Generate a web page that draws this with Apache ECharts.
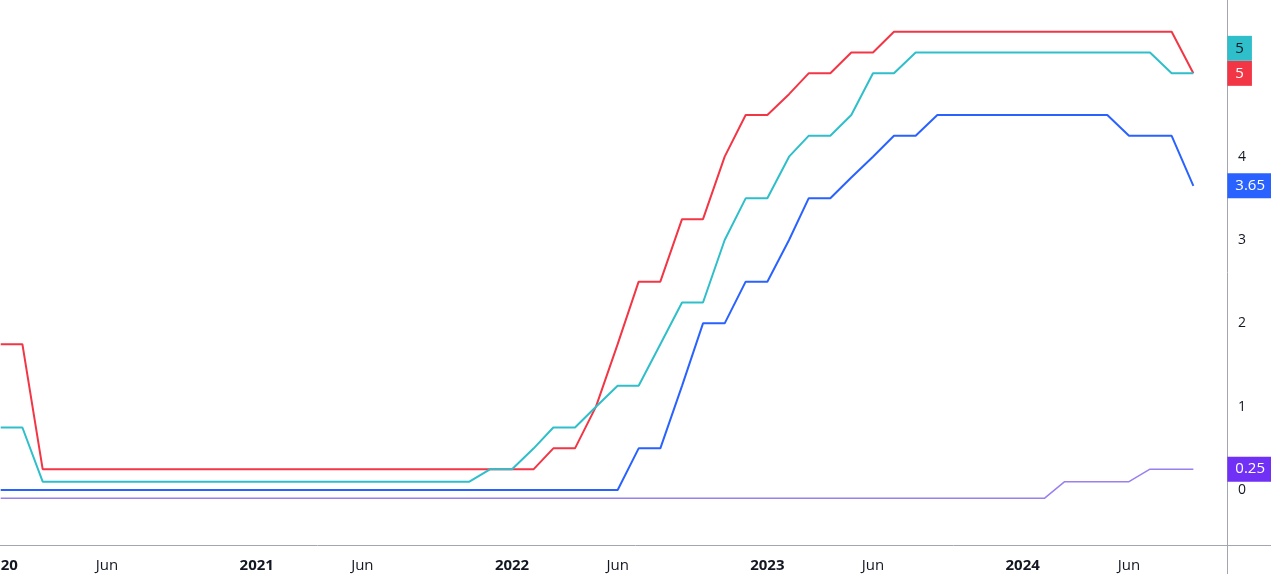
<!DOCTYPE html>
<html>
<head>
<meta charset="utf-8">
<script src="https://cdn.jsdelivr.net/npm/echarts@6/dist/echarts.min.js"></script>
<style>
    html, body { margin: 0; padding: 0; background: #fff; }
    #chart { width: 1271px; height: 574px; }
</style>
</head>
<body>
<div id="chart"></div>
<script>
// monthly points, Jan 2020 .. Sep 2024
const startYear = 2020
const monthCount = 57
const months = []
for (let i = 0; i < monthCount; i++) {
    months.push(new Date(startYear + Math.floor(i / 12), i % 12, 1).getTime())
}

// red
const fedRate = [
    1.75, 1.75, 0.25, 0.25, 0.25, 0.25, 0.25, 0.25, 0.25, 0.25, 0.25, 0.25,
    0.25, 0.25, 0.25, 0.25, 0.25, 0.25, 0.25, 0.25, 0.25, 0.25, 0.25, 0.25,
    0.25, 0.25, 0.5, 0.5, 1.0, 1.75, 2.5, 2.5, 3.25, 3.25, 4.0, 4.5,
    4.5, 4.75, 5.0, 5.0, 5.25, 5.25, 5.5, 5.5, 5.5, 5.5, 5.5, 5.5,
    5.5, 5.5, 5.5, 5.5, 5.5, 5.5, 5.5, 5.5, 5.0,
]
// cyan
const boeRate = [
    0.75, 0.75, 0.1, 0.1, 0.1, 0.1, 0.1, 0.1, 0.1, 0.1, 0.1, 0.1,
    0.1, 0.1, 0.1, 0.1, 0.1, 0.1, 0.1, 0.1, 0.1, 0.1, 0.1, 0.25,
    0.25, 0.5, 0.75, 0.75, 1.0, 1.25, 1.25, 1.75, 2.25, 2.25, 3.0, 3.5,
    3.5, 4.0, 4.25, 4.25, 4.5, 5.0, 5.0, 5.25, 5.25, 5.25, 5.25, 5.25,
    5.25, 5.25, 5.25, 5.25, 5.25, 5.25, 5.25, 5.0, 5.0,
]
// blue
const ecbRate = [
    0, 0, 0, 0, 0, 0, 0, 0, 0, 0, 0, 0,
    0, 0, 0, 0, 0, 0, 0, 0, 0, 0, 0, 0,
    0, 0, 0, 0, 0, 0, 0.5, 0.5, 1.25, 2.0, 2.0, 2.5,
    2.5, 3.0, 3.5, 3.5, 3.75, 4.0, 4.25, 4.25, 4.5, 4.5, 4.5, 4.5,
    4.5, 4.5, 4.5, 4.5, 4.5, 4.25, 4.25, 4.25, 3.65,
]
// purple
const bojRate = [
    -0.1, -0.1, -0.1, -0.1, -0.1, -0.1, -0.1, -0.1, -0.1, -0.1, -0.1, -0.1,
    -0.1, -0.1, -0.1, -0.1, -0.1, -0.1, -0.1, -0.1, -0.1, -0.1, -0.1, -0.1,
    -0.1, -0.1, -0.1, -0.1, -0.1, -0.1, -0.1, -0.1, -0.1, -0.1, -0.1, -0.1,
    -0.1, -0.1, -0.1, -0.1, -0.1, -0.1, -0.1, -0.1, -0.1, -0.1, -0.1, -0.1,
    -0.1, -0.1, 0.1, 0.1, 0.1, 0.1, 0.25, 0.25, 0.25,
]

const yTicks = [0, 1, 2, 3, 4, 5]
const xTicks = [
    [2020, 0], [2020, 5], [2021, 0], [2021, 5], [2022, 0],
    [2022, 5], [2023, 0], [2023, 5], [2024, 0], [2024, 5],
]
const xTickLabels = ['2020', 'Jun', '2021', 'Jun', '2022', 'Jun', '2023', 'Jun', '2024', 'Jun']

const xTickValues = xTicks.map(t => new Date(t[0], t[1], 1).getTime())
const tickLabelOf = {}
xTickValues.forEach((v, i) => {
    tickLabelOf[v] = xTickLabels[i]
})

const pairs = values => months.map((m, i) => [m, values[i]])
const lastText = values => String(values[values.length - 1])

const axisGray = '#a3a6af'
const textColor = '#131722'

function makeLine(name, values, color, width, labelBg, labelColor, dy) {
    return {
        name: name,
        type: 'line',
        data: pairs(values),
        showSymbol: false,
        symbol: 'none',
        lineStyle: { color: color, width: width },
        itemStyle: { color: color },
        endLabel: {
            show: true,
            formatter: () => lastText(values),
            distance: 34,
            offset: [0, dy],
            backgroundColor: labelBg,
            color: labelColor,
            fontFamily: 'Open Sans',
            fontSize: 15,
            lineHeight: 17,
            padding: [4, 8, 4, 8],
        },
    }
}

var myChart = echarts.init(document.getElementById('chart'))
var option = {
    animation: false,
    backgroundColor: '#ffffff',
    grid: {
        left: 0,
        right: 0,
        top: 0,
        bottom: 29,
        containLabel: false,
        outerBoundsMode: 'none',
    },
    xAxis: {
        // timestamps on a plain value axis so the Jan / Jun ticks can be listed
        type: 'value',
        min: new Date(2019, 11, 31).getTime(),
        max: new Date(2024, 11, 21).getTime(),
        axisLine: { show: true, onZero: false, lineStyle: { color: axisGray, width: 1 } },
        axisTick: { show: false },
        splitLine: { show: false },
        axisLabel: {
            customValues: xTickValues,
            margin: 13,
            color: textColor,
            fontFamily: 'Open Sans',
            fontSize: 15,
            formatter: val => {
                let s = tickLabelOf[val] || ''
                return s === 'Jun' ? s : '{y|' + s + '}'
            },
            rich: {
                y: {
                    fontWeight: 'bold',
                    fontFamily: 'Open Sans',
                    fontSize: 15,
                    color: textColor,
                },
            },
        },
    },
    yAxis: {
        type: 'value',
        position: 'right',
        offset: -44,
        min: -0.66,
        max: 5.88,
        axisLine: { show: true, onZero: false, lineStyle: { color: axisGray, width: 1 } },
        axisTick: { show: false },
        splitLine: { show: false },
        axisLabel: {
            customValues: yTicks,
            margin: 11,
            color: textColor,
            fontFamily: 'Open Sans',
            fontSize: 14,
        },
    },
    graphic: [
        {
            type: 'line',
            shape: { x1: 1227.5, y1: 545, x2: 1227.5, y2: 574 },
            style: { stroke: axisGray, lineWidth: 1 },
        },
    ],
    series: [
        makeLine('BoJ', bojRate, '#9a80ee', 1.5, '#7030f5', '#ffffff', 0),
        makeLine('ECB', ecbRate, '#2962ff', 2, '#2962ff', '#ffffff', 0),
        makeLine('Fed', fedRate, '#f23645', 2, '#f23645', '#ffffff', 0),
        makeLine('BoE', boeRate, '#2ebfca', 2, '#2ebfca', '#131722', -25),
    ],
}
myChart.setOption(option)
</script>
</body>
</html>
